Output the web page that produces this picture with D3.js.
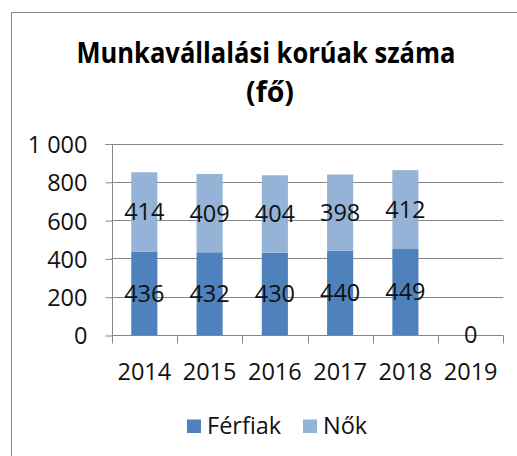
<!DOCTYPE html>
<html>
<head>
<meta charset="utf-8">
<script src="https://cdn.jsdelivr.net/npm/d3@7"></script>
<style>
	body { margin: 0; background: #fff; }
	svg { display: block; font-family: "Open Sans", sans-serif; }
</style>
</head>
<body>
<div class="chart__munka"><svg></svg></div>
<script>
// DATA
var years = ['2014', '2015', '2016', '2017', '2018', '2019'];
var ferfiak = [436, 432, 430, 440, 449, 0];
var nok = [414, 409, 404, 398, 412, null];
var seriesNames = ['Férfiak', 'Nők'];
var yTicks = [0, 200, 400, 600, 800, 1000];
var titleLines = ['Munkavállalási korúak száma', '(fő)'];

(function() {

	//VARS
	var width = 517;
	var height = 456;
	var scales = {};
	var colors = ['#4f81bd', '#95b3d7'];
	var grey = '#878787';
	var margin = {top: 143.5, bottom: 121, left: 111.7, right: 13.7};
	var chart = d3.select('.chart__munka');

	function buildRows() {
		return years.map(function(y, i) {
			return {year: y, 'Férfiak': ferfiak[i], 'Nők': nok[i]};
		});
	}

	function setupScales() {
		scales.x = d3.scaleBand()
			.domain(years)
			.range([margin.left, width - margin.right])
			.paddingInner(0.6)
			.paddingOuter(0.3);
		scales.band = d3.scaleBand()
			.domain(years)
			.range([margin.left, width - margin.right]);
		scales.y = d3.scaleLinear()
			.domain([0, 1000])
			.range([height - margin.bottom, margin.top]);
		scales.z = d3.scaleOrdinal().domain(seriesNames).range(colors);
	}

	function drawFrame(svg) {
		svg.append('rect')
			.attr('width', width).attr('height', height)
			.attr('fill', '#fff');
		// outer chart border, only top and left are inside the picture
		svg.append('path')
			.attr('d', 'M11.5,' + (height + 5) + 'V12.5H' + (width + 5))
			.attr('fill', 'none')
			.attr('stroke', grey)
			.attr('stroke-width', 1);
	}

	function drawTitle(svg) {
		var t = svg.append('g').attr('class', 'title')
			.attr('font-weight', 'bold')
			.attr('fill', '#000')
			.attr('text-anchor', 'middle');
		t.append('text')
			.attr('x', 266).attr('y', 63)
			.attr('font-size', 28)
			.attr('textLength', 379)
			.attr('lengthAdjust', 'spacingAndGlyphs')
			.text(titleLines[0]);
		t.append('text')
			.attr('x', 270).attr('y', 102)
			.attr('font-size', 28)
			.attr('textLength', 48)
			.attr('lengthAdjust', 'spacingAndGlyphs')
			.text(titleLines[1]);
	}

	function drawAxes(svg) {
		var x0 = margin.left, x1 = width - margin.right;
		var y0 = scales.y(0);

		// gridlines
		svg.append('g').attr('class', 'grid')
			.selectAll('line')
			.data(yTicks.slice(1))
			.enter().append('line')
			.attr('x1', x0).attr('x2', x1)
			.attr('y1', function(d) { return Math.round(scales.y(d)) + 0.5; })
			.attr('y2', function(d) { return Math.round(scales.y(d)) + 0.5; })
			.attr('stroke', grey);

		// y axis
		var yaxis = svg.append('g')
			.attr('class', 'axis axis--y')
			.attr('transform', 'translate(' + (Math.round(x0) + 0.5) + ',0.5)')
			.call(d3.axisLeft(scales.y)
				.tickValues(yTicks)
				.tickSize(7)
				.tickPadding(18)
				.tickFormat(function(d) { return d3.format(',')(d).replace(',', ' '); }));

		// x axis with ticks on band edges
		var xaxis = svg.append('g')
			.attr('class', 'axis axis--x')
			.attr('transform', 'translate(0,' + (Math.round(y0) + 0.5) + ')');
		xaxis.append('line')
			.attr('x1', x0).attr('x2', x1)
			.attr('stroke', grey);
		var edges = years.map(function(y) { return scales.band(y); }).concat([x1]);
		xaxis.selectAll('.edge')
			.data(edges)
			.enter().append('line')
			.attr('class', 'edge')
			.attr('x1', function(d) { return Math.round(d) + 0.5; })
			.attr('x2', function(d) { return Math.round(d) + 0.5; })
			.attr('y1', 0).attr('y2', 8)
			.attr('stroke', grey);
		xaxis.selectAll('.lbl')
			.data(years)
			.enter().append('text')
			.attr('class', 'lbl')
			.attr('x', function(d) { return scales.band(d) + scales.band.bandwidth() / 2; })
			.attr('y', 44)
			.attr('text-anchor', 'middle')
			.attr('font-size', 23.5)
			.attr('fill', '#111')
			.text(function(d) { return d; });

		yaxis.select('.domain').attr('stroke', grey).attr('d', 'M-7,' + Math.round(scales.y(1000)) + 'H0V' + Math.round(y0));
		yaxis.selectAll('.tick line').attr('stroke', grey);
		yaxis.selectAll('.tick text')
			.attr('font-size', 23.5)
			.attr('font-family', '"Open Sans", sans-serif')
			.attr('fill', '#111')
			.attr('dy', '0.36em');
	}

	function drawBars(svg, rows) {
		var stack = d3.stack().keys(seriesNames).value(function(d, k) { return d[k] || 0; });
		var layers = stack(rows);

		var g = svg.append('g').attr('class', 'bars');
		var layer = g.selectAll('.layer')
			.data(layers)
			.enter().append('g')
			.attr('class', 'layer')
			.attr('fill', function(d) { return scales.z(d.key); });

		layer.selectAll('rect')
			.data(function(d) { return d; })
			.enter().append('rect')
			.attr('x', function(d) { return scales.x(d.data.year); })
			.attr('width', scales.x.bandwidth())
			.attr('y', function(d) { return scales.y(d[1]); })
			.attr('height', function(d) { return scales.y(d[0]) - scales.y(d[1]); });

		// data labels in the middle of each segment
		var labels = svg.append('g').attr('class', 'labels');
		layers.forEach(function(l) {
			labels.selectAll('.lbl-' + l.index)
				.data(l.filter(function(d) { return d.data[l.key] != null; }))
				.enter().append('text')
				.attr('x', function(d) { return scales.band(d.data.year) + scales.band.bandwidth() / 2; })
				.attr('y', function(d) { return scales.y((d[0] + d[1]) / 2); })
				.attr('dy', '0.36em')
				.attr('text-anchor', 'middle')
				.attr('font-size', 23.5)
				.attr('fill', '#111')
				.text(function(d) { return d.data[l.key]; });
		});
	}

	function drawLegend(svg) {
		var items = [{name: seriesNames[0], x: 187}, {name: seriesNames[1], x: 303}];
		var lg = svg.append('g').attr('class', 'legend');
		var it = lg.selectAll('g')
			.data(items)
			.enter().append('g')
			.attr('transform', function(d) { return 'translate(' + d.x + ',419.5)'; });
		it.append('rect')
			.attr('width', 14).attr('height', 13.5)
			.attr('fill', function(d) { return scales.z(d.name); });
		it.append('text')
			.attr('x', 20).attr('y', 14)
			.attr('font-size', 23.5)
			.attr('fill', '#111')
			.text(function(d) { return d.name; });
	}

	function init() {
		var svg = chart.select('svg')
			.attr('width', width)
			.attr('height', height);
		setupScales();
		drawFrame(svg);
		drawTitle(svg);
		drawAxes(svg);
		drawBars(svg, buildRows());
		drawLegend(svg);
	}

	init();
})();
</script>
</body>
</html>
